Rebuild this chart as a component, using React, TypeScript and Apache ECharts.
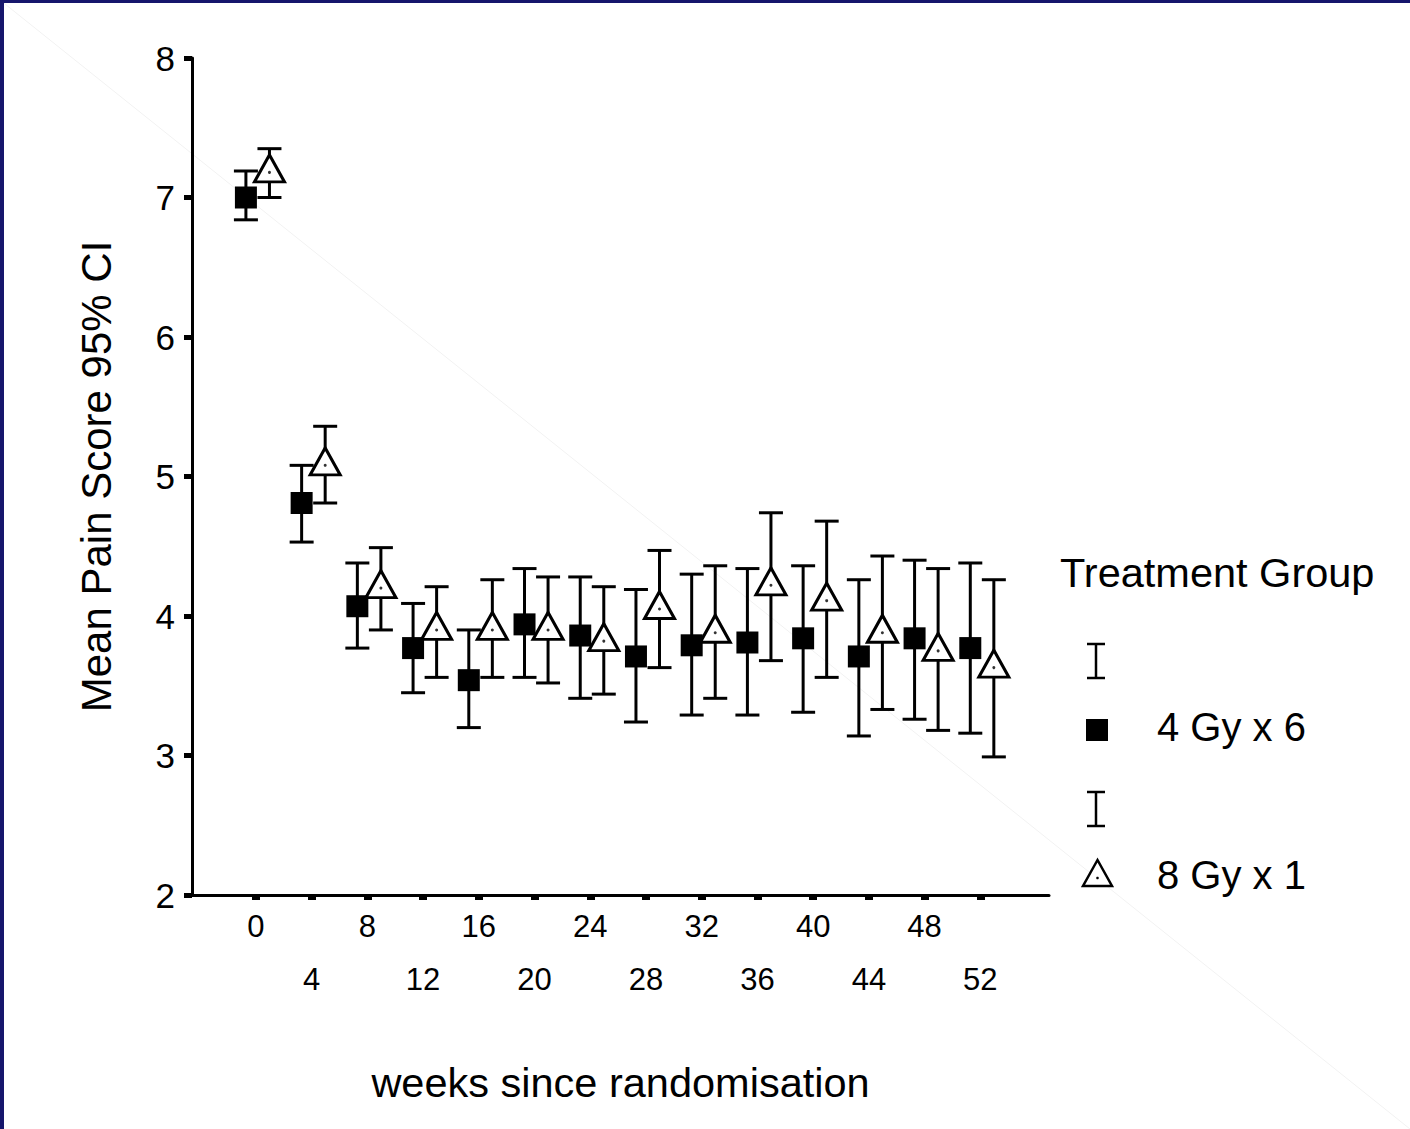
import React, { useEffect, useRef } from "react";
import * as echarts from "echarts";

// ---- data ----
const WEEKS = [0, 4, 8, 12, 16, 20, 24, 28, 32, 36, 40, 44, 48, 52];

// 4 Gy x 6 (filled squares)
const SQ_MEAN = [7.0, 4.81, 4.07, 3.77, 3.54, 3.94, 3.86, 3.71, 3.79, 3.81, 3.84, 3.71, 3.84, 3.77];
const SQ_LOW = [6.84, 4.53, 3.77, 3.45, 3.2, 3.56, 3.41, 3.24, 3.29, 3.29, 3.31, 3.14, 3.26, 3.16];
const SQ_HIGH = [7.19, 5.08, 4.38, 4.09, 3.9, 4.34, 4.28, 4.19, 4.3, 4.34, 4.36, 4.26, 4.4, 4.38];

// 8 Gy x 1 (open triangles)
const TRI_MEAN = [7.18, 5.08, 4.2, 3.9, 3.9, 3.9, 3.82, 4.05, 3.88, 4.22, 4.11, 3.88, 3.75, 3.63];
const TRI_LOW = [7.0, 4.81, 3.9, 3.56, 3.56, 3.52, 3.44, 3.63, 3.41, 3.68, 3.56, 3.33, 3.18, 2.99];
const TRI_HIGH = [7.35, 5.36, 4.49, 4.21, 4.26, 4.28, 4.21, 4.47, 4.36, 4.74, 4.68, 4.43, 4.34, 4.26];

const SERIES_NAMES = ["4 Gy x 6", "8 Gy x 1"];
const LEGEND_TITLE = "Treatment Group";
const X_TITLE = "weeks since randomisation";
const Y_TITLE = "Mean Pain Score 95% CI";

// horizontal dodge of the two groups (in weeks)
const SQ_DODGE = -0.72;
const TRI_DODGE = 0.97;

const FONT = "'Liberation Sans', Arial, Helvetica, sans-serif";
const NAVY = "#16166c";

export default function App() {
  const ref = useRef<HTMLDivElement>(null);

  useEffect(() => {
    if (!ref.current) return;
    const chart = echarts.init(ref.current, undefined, { renderer: "svg" });

    const sqBars = WEEKS.map((w, i) => [w + SQ_DODGE, SQ_LOW[i], SQ_HIGH[i]]);
    const triBars = WEEKS.map((w, i) => [w + TRI_DODGE, TRI_LOW[i], TRI_HIGH[i]]);
    const sqPts = WEEKS.map((w, i) => [w + SQ_DODGE, SQ_MEAN[i]]);
    const triPts = WEEKS.map((w, i) => [w + TRI_DODGE, TRI_MEAN[i]]);

    const errRender = (params: any, api: any) => {
      const x = api.value(0);
      const lo = api.coord([x, api.value(1)]);
      const hi = api.coord([x, api.value(2)]);
      const hw = 12;
      const st = { stroke: "#000", lineWidth: 3 };
      return {
        type: "group",
        children: [
          { type: "line", shape: { x1: lo[0], y1: lo[1], x2: hi[0], y2: hi[1] }, style: st },
          { type: "line", shape: { x1: lo[0] - hw, y1: lo[1], x2: lo[0] + hw, y2: lo[1] }, style: st },
          { type: "line", shape: { x1: hi[0] - hw, y1: hi[1], x2: hi[0] + hw, y2: hi[1] }, style: st },
        ],
      };
    };

    const ibeam = (cx: number, y1: number, y2: number) => ({
      type: "group",
      children: [
        { type: "line", shape: { x1: cx, y1, x2: cx, y2 }, style: { stroke: "#000", lineWidth: 2.5 } },
        { type: "line", shape: { x1: cx - 9, y1, x2: cx + 9, y2: y1 }, style: { stroke: "#000", lineWidth: 2.5 } },
        { type: "line", shape: { x1: cx - 9, y1: y2, x2: cx + 9, y2 }, style: { stroke: "#000", lineWidth: 2.5 } },
      ],
    });

    chart.setOption({
      animation: false,
      backgroundColor: "#ffffff",
      textStyle: { fontFamily: FONT, color: "#000" },
      grid: { left: 192, right: 361, top: 58, bottom: 234, containLabel: false },
      xAxis: {
        type: "value",
        min: -4.59,
        max: 56.93,
        name: X_TITLE,
        nameLocation: "middle",
        nameGap: 166,
        nameTextStyle: { fontSize: 41.5, color: "#000", fontFamily: FONT },
        splitLine: { show: false },
        axisLine: { show: true, onZero: false, lineStyle: { color: "#000", width: 3 } },
        axisTick: {
          show: true,
          customValues: WEEKS,
          length: 5,
          lineStyle: { color: "#000", width: 8 },
        },
        axisLabel: {
          customValues: WEEKS,
          margin: 5,
          fontSize: 31,
          lineHeight: 53,
          color: "#000",
          fontFamily: FONT,
          formatter: (v: number) => (v % 8 === 0 ? String(v) : "\n" + v),
        },
      },
      yAxis: {
        type: "value",
        min: 2,
        max: 8,
        interval: 1,
        name: Y_TITLE,
        nameLocation: "middle",
        nameRotate: 90,
        nameGap: 75,
        nameTextStyle: { fontSize: 42, color: "#000", fontFamily: FONT },
        splitLine: { show: false },
        axisLine: { show: true, onZero: false, lineStyle: { color: "#000", width: 3 } },
        axisTick: { show: true, length: 8, lineStyle: { color: "#000", width: 5 } },
        axisLabel: { fontSize: 35, margin: 17, color: "#000", fontFamily: FONT },
      },
      series: [
        {
          type: "custom",
          name: SERIES_NAMES[0] + " CI",
          renderItem: errRender,
          encode: { x: 0, y: [1, 2] },
          data: sqBars,
          z: 2,
          silent: true,
        },
        {
          type: "custom",
          name: SERIES_NAMES[1] + " CI",
          renderItem: errRender,
          encode: { x: 0, y: [1, 2] },
          data: triBars,
          z: 2,
          silent: true,
        },
        {
          type: "scatter",
          name: SERIES_NAMES[0],
          data: sqPts,
          symbol: "rect",
          symbolSize: 22,
          itemStyle: { color: "#000", opacity: 1 },
          z: 4,
          silent: true,
        },
        {
          type: "scatter",
          name: SERIES_NAMES[1],
          data: triPts,
          symbol: "triangle",
          symbolSize: [30, 27],
          symbolOffset: [0, -4],
          itemStyle: { color: "#fff", borderColor: "#000", borderWidth: 3, opacity: 1 },
          z: 4,
          silent: true,
        },
        {
          type: "scatter",
          name: SERIES_NAMES[1] + " centre",
          data: triPts,
          symbol: "circle",
          symbolSize: 3,
          itemStyle: { color: "#000" },
          z: 5,
          silent: true,
        },
      ],
      graphic: [
        // faint diagonal artefact line
        {
          type: "line",
          z: -10,
          silent: true,
          shape: { x1: 0, y1: 0, x2: 1410, y2: 1129 },
          style: { stroke: "#f2f2f2", lineWidth: 1 },
        },
        // navy frame (left and top)
        { type: "rect", silent: true, shape: { x: 0, y: 0, width: 4, height: 1129 }, style: { fill: NAVY } },
        { type: "rect", silent: true, shape: { x: 0, y: 0, width: 1410, height: 3 }, style: { fill: NAVY } },
        // legend
        {
          type: "text",
          silent: true,
          x: 1060,
          y: 572,
          style: {
            text: LEGEND_TITLE,
            fontSize: 41.5,
            fontFamily: FONT,
            fill: "#000",
            textAlign: "left",
            textVerticalAlign: "middle",
          },
        },
        ibeam(1096, 644, 678),
        { type: "rect", silent: true, shape: { x: 1086, y: 719, width: 22, height: 22 }, style: { fill: "#000" } },
        {
          type: "text",
          silent: true,
          x: 1157,
          y: 727,
          style: {
            text: SERIES_NAMES[0],
            fontSize: 40,
            fontFamily: FONT,
            fill: "#000",
            textAlign: "left",
            textVerticalAlign: "middle",
          },
        },
        ibeam(1096, 792, 826),
        {
          type: "polygon",
          silent: true,
          shape: { points: [[1097.5, 860], [1083, 886], [1112, 886]] },
          style: { fill: "#fff", stroke: "#000", lineWidth: 2.5 },
        },
        { type: "circle", silent: true, shape: { cx: 1097.5, cy: 878, r: 1.3 }, style: { fill: "#000" } },
        {
          type: "text",
          silent: true,
          x: 1157,
          y: 875,
          style: {
            text: SERIES_NAMES[1],
            fontSize: 40,
            fontFamily: FONT,
            fill: "#000",
            textAlign: "left",
            textVerticalAlign: "middle",
          },
        },
      ],
    });

    return () => chart.dispose();
  }, []);

  return (
    <div
      ref={ref}
      style={{ position: "fixed", left: 0, top: 0, width: 1410, height: 1129, background: "#fff" }}
    />
  );
}
